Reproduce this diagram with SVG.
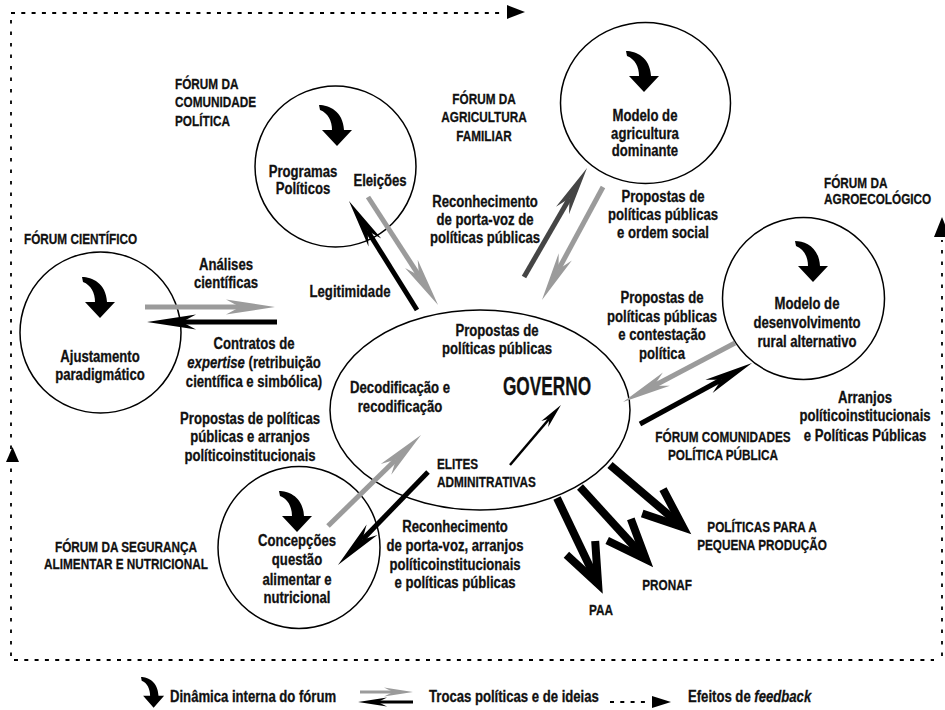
<svg xmlns="http://www.w3.org/2000/svg" width="945" height="710" viewBox="0 0 945 710">
<style>
text{font-family:"Liberation Sans",Arial,sans-serif;font-weight:bold;font-size:16px;fill:#111;stroke:#111;stroke-width:0.3}
.c{text-anchor:middle}
.cap{font-size:15.5px}
.node{fill:#fff;stroke:#000;stroke-width:1.5}
.dh{fill:none;stroke:#000;stroke-width:1.8;stroke-dasharray:4 6.3}
.dv{fill:none;stroke:#000;stroke-width:1.8;stroke-dasharray:3.5 8}
.g{stroke:#9b9b9b;stroke-width:5;fill:none}
.b{stroke:#000;stroke-width:5;fill:none}
.d{stroke:#454545;stroke-width:5;fill:none}
.big{stroke:#000;stroke-width:8;fill:none;stroke-linejoin:miter;stroke-miterlimit:6}
.it{font-style:italic}
</style>
<defs>
<path id="curl" d="M0,0 C10,0 24,6 25,25 L33,25 L18,41 L3,25 L13,25 C13,16 9,8 1,5 Z" fill="#000"/>
<marker id="mg" markerUnits="userSpaceOnUse" orient="auto" markerWidth="10" markerHeight="10" refX="0" refY="0" overflow="visible"><path d="M-14,-7.5 L35,0 L-14,7.5 L0,0 Z" fill="#9b9b9b"/></marker>
<marker id="mb" markerUnits="userSpaceOnUse" orient="auto" markerWidth="10" markerHeight="10" refX="0" refY="0" overflow="visible"><path d="M-14,-7.5 L35,0 L-14,7.5 L0,0 Z" fill="#000"/></marker>
<marker id="md" markerUnits="userSpaceOnUse" orient="auto" markerWidth="10" markerHeight="10" refX="0" refY="0" overflow="visible"><path d="M-14,-7.5 L35,0 L-14,7.5 L0,0 Z" fill="#454545"/></marker>
<marker id="ms" markerUnits="userSpaceOnUse" orient="auto" markerWidth="10" markerHeight="10" refX="0" refY="0" overflow="visible"><path d="M-7,-4.5 L18,0 L-7,4.5 L0,0 Z" fill="#000"/></marker>
<marker id="mlg" markerUnits="userSpaceOnUse" orient="auto" markerWidth="10" markerHeight="10" refX="0" refY="0" overflow="visible"><path d="M-9,-4.5 L20,0 L-9,4.5 L0,0 Z" fill="#9b9b9b"/></marker>
<marker id="mlb" markerUnits="userSpaceOnUse" orient="auto" markerWidth="10" markerHeight="10" refX="0" refY="0" overflow="visible"><path d="M-9,-4.5 L20,0 L-9,4.5 L0,0 Z" fill="#000"/></marker>
</defs>
<rect width="945" height="710" fill="#fff"/>

<g id="feedback">
<path class="dv" d="M11,656 L11,20"/>
<path class="dh" d="M11,13 L505,13"/>
<polygon points="507,5 525,12 507,19" fill="#000"/>
<polygon points="12.5,447 6,462 19,462" fill="#000"/>
<path class="dh" d="M14,660 L934,660"/>
<path class="dv" d="M942,656 L942,240"/>
<polygon points="942,217 934,237 950,237" fill="#000"/>
</g>

<g id="governo">
<ellipse class="node" cx="480" cy="410" rx="150" ry="100"/>
<text class="c" transform="translate(497,336) scale(.82,1)"><tspan x="0" y="0">Propostas de</tspan><tspan x="0" y="18">políticas públicas</tspan></text>
<text class="c" transform="translate(400,393) scale(.82,1)"><tspan x="0" y="0">Decodificação e</tspan><tspan x="0" y="19">recodificação</tspan></text>
<text class="c" transform="translate(547,395) scale(.69,1)" style="font-size:25px">GOVERNO</text>
<text class="cap" transform="translate(437,469) scale(.76,1)"><tspan x="0" y="0">ELITES</tspan><tspan x="0" y="18">ADMINITRATIVAS</tspan></text>
</g>

<g id="forum-comunidade-politica">
<circle class="node" cx="335.5" cy="166.5" r="80.5"/>
<use href="#curl" transform="translate(319,105)"/>
<text class="c" transform="translate(303,177) scale(.82,1)"><tspan x="0" y="0">Programas</tspan><tspan x="0" y="17">Políticos</tspan></text>
<text class="c" transform="translate(380,186) scale(.82,1)">Eleições</text>
<text class="cap" transform="translate(175,89) scale(.76,1)"><tspan x="0" y="0">FÓRUM DA</tspan><tspan x="0" y="18">COMUNIDADE</tspan><tspan x="0" y="37">POLÍTICA</tspan></text>
</g>

<g id="forum-agricultura-familiar">
<ellipse class="node" cx="645.5" cy="103" rx="85" ry="80.5"/>
<use href="#curl" transform="translate(626,51)"/>
<text class="c" transform="translate(645,121) scale(.82,1)"><tspan x="0" y="0">Modelo de</tspan><tspan x="0" y="18">agricultura</tspan><tspan x="0" y="35">dominante</tspan></text>
<text class="c cap" transform="translate(484,104) scale(.76,1)"><tspan x="0" y="0">FÓRUM DA</tspan><tspan x="0" y="18">AGRICULTURA</tspan><tspan x="0" y="37">FAMILIAR</tspan></text>
</g>

<g id="forum-agroecologico">
<circle class="node" cx="803.5" cy="298.5" r="81"/>
<use href="#curl" transform="translate(795,241)"/>
<text class="c" transform="translate(807,309) scale(.82,1)"><tspan x="0" y="0">Modelo de</tspan><tspan x="0" y="19">desenvolvimento</tspan><tspan x="0" y="38">rural alternativo</tspan></text>
<text class="cap" transform="translate(824,188) scale(.76,1)"><tspan x="0" y="0">FÓRUM DA</tspan><tspan x="0" y="16">AGROECOLÓGICO</tspan></text>
</g>

<g id="forum-cientifico">
<circle class="node" cx="100.5" cy="332.5" r="80.5"/>
<use href="#curl" transform="translate(82,277)"/>
<text class="c" transform="translate(100,362) scale(.82,1)"><tspan x="0" y="0">Ajustamento</tspan><tspan x="0" y="18">paradigmático</tspan></text>
<text class="cap" transform="translate(24,244) scale(.76,1)">FÓRUM CIENTÍFICO</text>
</g>

<g id="forum-seguranca-alimentar">
<circle class="node" cx="299" cy="547.5" r="81"/>
<use href="#curl" transform="translate(279,491)"/>
<text class="c" transform="translate(297,546) scale(.82,1)"><tspan x="0" y="0">Concepções</tspan><tspan x="0" y="19">questão</tspan><tspan x="0" y="39">alimentar e</tspan><tspan x="0" y="57">nutricional</tspan></text>
<text class="c cap" transform="translate(126,552) scale(.76,1)"><tspan x="0" y="0">FÓRUM DA SEGURANÇA</tspan><tspan x="0" y="17">ALIMENTAR E NUTRICIONAL</tspan></text>
</g>

<g id="forum-comunidades-politica-publica">
<text class="c cap" transform="translate(723,442) scale(.76,1)"><tspan x="0" y="0">FÓRUM COMUNIDADES</tspan><tspan x="0" y="18">POLÍTICA PÚBLICA</tspan></text>
</g>

<g id="politicas-pequena-producao"><text class="c cap" transform="translate(762,532) scale(.76,1)"><tspan x="0" y="0">POLÍTICAS PARA A</tspan><tspan x="0" y="18">PEQUENA PRODUÇÃO</tspan></text></g>
<g id="pronaf"><text class="c cap" transform="translate(667,590) scale(.76,1)">PRONAF</text></g>
<g id="paa"><text class="c cap" transform="translate(601,615) scale(.76,1)">PAA</text></g>

<g id="connectors">
<line class="g" x1="145" y1="307" x2="240" y2="307" marker-end="url(#mg)"/>
<line class="b" x1="277" y1="322" x2="182" y2="322" marker-end="url(#mb)"/>
<line class="b" x1="417" y1="310" x2="367.5" y2="230.7" marker-end="url(#mb)"/>
<line class="g" x1="368" y1="197" x2="419" y2="275.6" marker-end="url(#mg)"/>
<line class="d" x1="524" y1="277" x2="569.5" y2="198.3" marker-end="url(#md)"/>
<line class="g" x1="603" y1="187" x2="558.6" y2="269.2" marker-end="url(#mg)"/>
<line class="g" x1="735" y1="343" x2="654" y2="385.7" marker-end="url(#mg)"/>
<line class="b" x1="640" y1="424" x2="721.3" y2="379.7" marker-end="url(#mb)"/>
<line class="g" x1="328" y1="526" x2="396" y2="459.5" marker-end="url(#mg)"/>
<line class="b" x1="428" y1="472" x2="362.3" y2="539.8" marker-end="url(#mb)"/>
<line stroke="#000" stroke-width="2.5" x1="510" y1="465" x2="549.3" y2="418.7" marker-end="url(#ms)"/>
<line class="big" x1="557" y1="498" x2="598.1" y2="583.9"/>
<polyline class="big" points="595.2,540.9 598.1,583.9 566.4,554.7"/>
<line class="big" x1="580" y1="487" x2="645.9" y2="559.3"/>
<polyline class="big" points="630.8,518.9 645.9,559.3 607.2,540.5"/>
<line class="big" x1="610" y1="465" x2="683.1" y2="527.2"/>
<polyline class="big" points="663,489.1 683.1,527.2 642.2,513.5"/>
</g>

<g id="labels">
<text class="c" transform="translate(226,270) scale(.82,1)"><tspan x="0" y="0">Análises</tspan><tspan x="0" y="18">científicas</tspan></text>
<text class="c" transform="translate(350,297) scale(.82,1)">Legitimidade</text>
<text class="c" transform="translate(254,349) scale(.82,1)"><tspan x="0" y="0">Contratos de</tspan><tspan x="0" y="19"><tspan class="it">expertise</tspan> (retribuição</tspan><tspan x="0" y="38">científica e simbólica)</tspan></text>
<text class="c" transform="translate(485,207) scale(.82,1)"><tspan x="0" y="0">Reconhecimento</tspan><tspan x="0" y="18">de porta-voz de</tspan><tspan x="0" y="36">políticas públicas</tspan></text>
<text class="c" transform="translate(663,202) scale(.82,1)"><tspan x="0" y="0">Propostas de</tspan><tspan x="0" y="18">políticas públicas</tspan><tspan x="0" y="36">e ordem social</tspan></text>
<text class="c" transform="translate(250,424) scale(.82,1)"><tspan x="0" y="0">Propostas de políticas</tspan><tspan x="0" y="18">públicas e arranjos</tspan><tspan x="0" y="37">políticoinstitucionais</tspan></text>
<text class="c" transform="translate(662,303) scale(.82,1)"><tspan x="0" y="0">Propostas de</tspan><tspan x="0" y="19">políticas públicas</tspan><tspan x="0" y="37">e contestação</tspan><tspan x="0" y="56">política</tspan></text>
<text class="c" transform="translate(865,403) scale(.82,1)"><tspan x="0" y="0">Arranjos</tspan><tspan x="0" y="18">políticoinstitucionais</tspan><tspan x="0" y="38">e Políticas Públicas</tspan></text>
<text class="c" transform="translate(455,532) scale(.82,1)"><tspan x="0" y="0">Reconhecimento</tspan><tspan x="0" y="19">de porta-voz, arranjos</tspan><tspan x="0" y="38">políticoinstitucionais</tspan><tspan x="0" y="56">e políticas públicas</tspan></text>
</g>

<g id="legend">
<use href="#curl" transform="translate(141,677) scale(0.7,0.75)"/>
<text transform="translate(170,702) scale(.82,1)">Dinâmica interna do fórum</text>
<line stroke="#9b9b9b" stroke-width="3" x1="360" y1="692" x2="393" y2="692" marker-end="url(#mlg)"/>
<line stroke="#000" stroke-width="3" x1="413" y1="702" x2="378" y2="702" marker-end="url(#mlb)"/>
<text transform="translate(429,702) scale(.82,1)">Trocas políticas e de ideias</text>
<path class="dh" d="M610,702 L650,702"/>
<polygon points="652,696 671,702 652,708" fill="#000"/>
<text transform="translate(688,702) scale(.82,1)">Efeitos de <tspan class="it">feedback</tspan></text>
</g>
</svg>
